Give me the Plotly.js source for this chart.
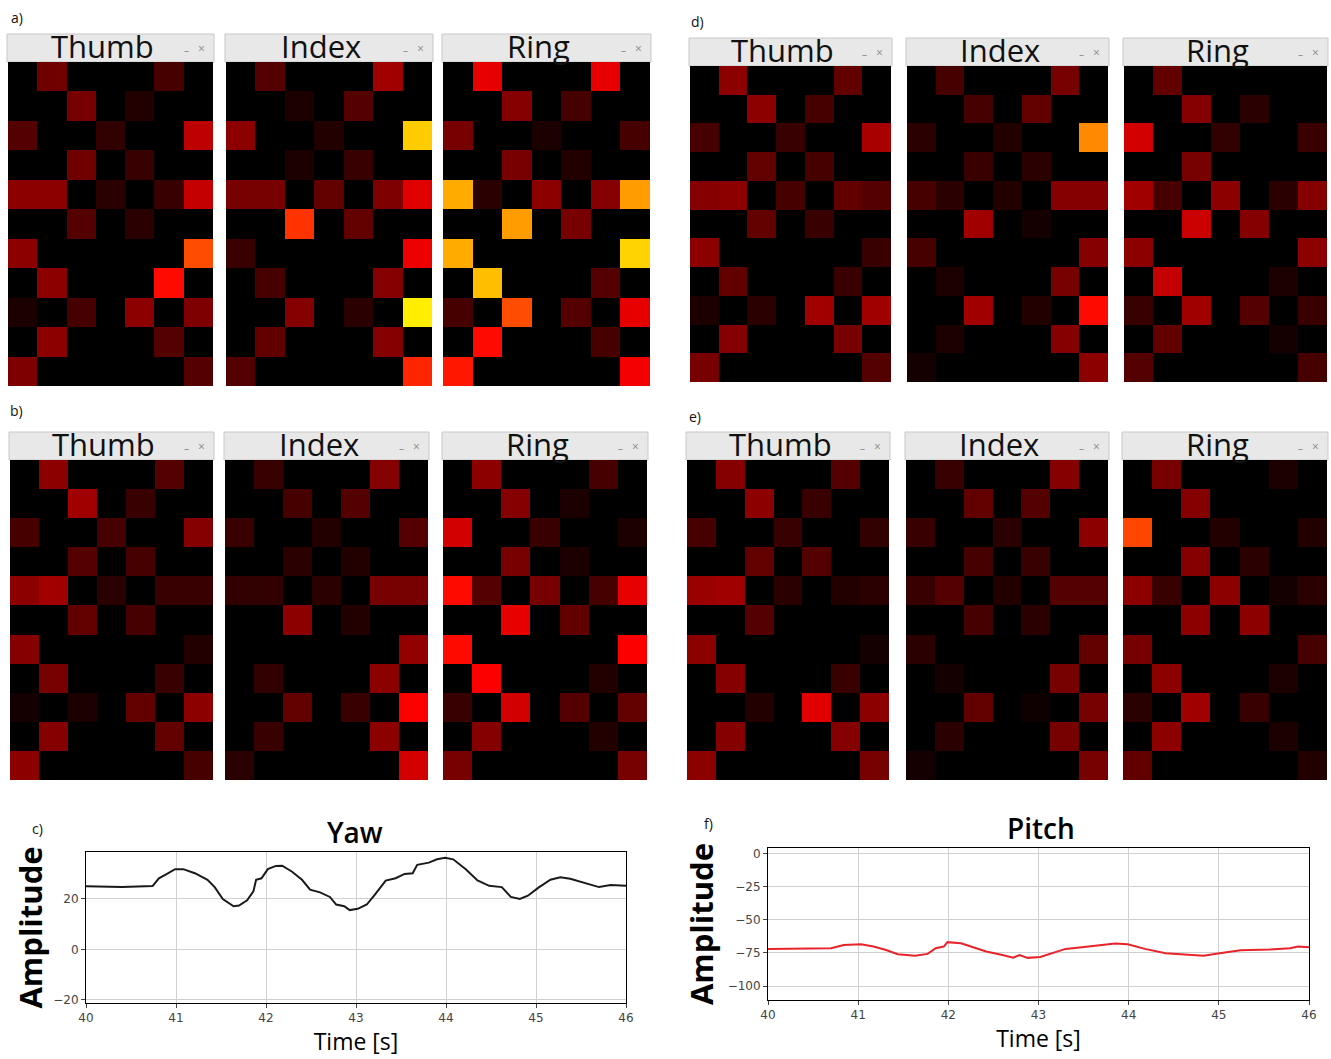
<!DOCTYPE html>
<html>
<head>
<meta charset="utf-8">
<script src="https://cdn.plot.ly/plotly-3.0.1.min.js"></script>
<style>html,body{margin:0;padding:0;background:#fff;}#chart{width:1331px;height:1059px;}</style>
</head>
<body>
<div id="chart"></div>
<script>
// ---------------- DATA ----------------
const fingers = ["Thumb", "Index", "Ring"];
const panelLabels = ["a)", "b)", "c)", "d)", "e)", "f)"];

// 11 rows x 7 columns intensity maps (0..1, "hot" colour scale)
const aThumb = [
  [0,0.16,0,0,0,0.1,0],
  [0,0,0.17,0,0.05,0,0],
  [0.12,0,0,0.07,0,0,0.27],
  [0,0,0.16,0,0.08,0,0],
  [0.2,0.2,0,0.06,0,0.08,0.28],
  [0,0,0.12,0,0.06,0,0],
  [0.2,0,0,0,0,0,0.48],
  [0,0.2,0,0,0,0.38,0],
  [0.04,0,0.1,0,0.2,0,0.18],
  [0,0.2,0,0,0,0.12,0],
  [0.18,0,0,0,0,0,0.12]
];
const aIndex = [
  [0,0.12,0,0,0,0.23,0],
  [0,0,0.04,0,0.12,0,0],
  [0.2,0,0,0.05,0,0,0.67],
  [0,0,0.04,0,0.08,0,0],
  [0.17,0.17,0,0.14,0,0.18,0.32],
  [0,0,0.44,0,0.14,0,0],
  [0.08,0,0,0,0,0,0.34],
  [0,0.1,0,0,0,0.19,0],
  [0,0,0.19,0,0.06,0,0.72],
  [0,0.14,0,0,0,0.19,0],
  [0.12,0,0,0,0,0,0.42]
];
const aRing = [
  [0,0.33,0,0,0,0.33,0],
  [0,0,0.19,0,0.1,0,0],
  [0.17,0,0,0.04,0,0,0.1],
  [0,0,0.17,0,0.05,0,0],
  [0.62,0.06,0,0.2,0,0.19,0.6],
  [0,0,0.6,0,0.17,0,0],
  [0.62,0,0,0,0,0,0.68],
  [0,0.65,0,0,0,0.12,0],
  [0.1,0,0.48,0,0.12,0,0.33],
  [0,0.38,0,0,0,0.1,0],
  [0.4,0,0,0,0,0,0.35]
];
const bThumb = [
  [0,0.2,0,0,0,0.12,0],
  [0,0,0.23,0,0.08,0,0],
  [0.1,0,0,0.1,0,0,0.19],
  [0,0,0.12,0,0.1,0,0],
  [0.2,0.23,0,0.06,0,0.08,0.08],
  [0,0,0.14,0,0.1,0,0],
  [0.19,0,0,0,0,0,0.05],
  [0,0.17,0,0,0,0.08,0],
  [0.03,0,0.04,0,0.14,0,0.2],
  [0,0.19,0,0,0,0.14,0],
  [0.2,0,0,0,0,0,0.1]
];
const bIndex = [
  [0,0.08,0,0,0,0.19,0],
  [0,0,0.1,0,0.12,0,0],
  [0.08,0,0,0.05,0,0,0.12],
  [0,0,0.06,0,0.05,0,0],
  [0.07,0.07,0,0.06,0,0.17,0.17],
  [0,0,0.2,0,0.05,0,0],
  [0,0,0,0,0,0,0.21],
  [0,0.07,0,0,0,0.2,0],
  [0,0,0.14,0,0.08,0,0.36],
  [0,0.08,0,0,0,0.2,0],
  [0.06,0,0,0,0,0,0.3]
];
const bRing = [
  [0,0.2,0,0,0,0.1,0],
  [0,0,0.19,0,0.04,0,0],
  [0.3,0,0,0.08,0,0,0.04],
  [0,0,0.17,0,0.04,0,0],
  [0.38,0.12,0,0.17,0,0.1,0.33],
  [0,0,0.33,0,0.14,0,0],
  [0.38,0,0,0,0,0,0.36],
  [0,0.36,0,0,0,0.05,0],
  [0.08,0,0.3,0,0.12,0,0.14],
  [0,0.19,0,0,0,0.05,0],
  [0.17,0,0,0,0,0,0.17]
];
const dThumb = [
  [0,0.2,0,0,0,0.14,0],
  [0,0,0.2,0,0.1,0,0],
  [0.1,0,0,0.08,0,0,0.24],
  [0,0,0.14,0,0.1,0,0],
  [0.19,0.2,0,0.1,0,0.14,0.12],
  [0,0,0.14,0,0.08,0,0],
  [0.2,0,0,0,0,0,0.08],
  [0,0.14,0,0,0,0.08,0],
  [0.04,0,0.06,0,0.23,0,0.23],
  [0,0.19,0,0,0,0.17,0],
  [0.17,0,0,0,0,0,0.12]
];
const dIndex = [
  [0,0.1,0,0,0,0.17,0],
  [0,0,0.1,0,0.14,0,0],
  [0.06,0,0,0.05,0,0,0.57],
  [0,0,0.08,0,0.06,0,0],
  [0.1,0.06,0,0.05,0,0.19,0.19],
  [0,0,0.23,0,0.03,0,0],
  [0.1,0,0,0,0,0,0.19],
  [0,0.04,0,0,0,0.17,0],
  [0,0,0.23,0,0.05,0,0.38],
  [0,0.04,0,0,0,0.19,0],
  [0.03,0,0,0,0,0,0.2]
];
const dRing = [
  [0,0.14,0,0,0,0,0],
  [0,0,0.19,0,0.06,0,0],
  [0.3,0,0,0.07,0,0,0.08],
  [0,0,0.17,0,0,0,0],
  [0.23,0.1,0,0.2,0,0.06,0.19],
  [0,0,0.29,0,0.19,0,0],
  [0.2,0,0,0,0,0,0.2],
  [0,0.28,0,0,0,0.04,0],
  [0.08,0,0.23,0,0.12,0,0.08],
  [0,0.14,0,0,0,0.03,0],
  [0.12,0,0,0,0,0,0.1]
];
const eThumb = [
  [0,0.19,0,0,0,0.12,0],
  [0,0,0.2,0,0.08,0,0],
  [0.1,0,0,0.08,0,0,0.07],
  [0,0,0.14,0,0.12,0,0],
  [0.22,0.23,0,0.06,0,0.05,0.06],
  [0,0,0.12,0,0,0,0],
  [0.2,0,0,0,0,0,0.03],
  [0,0.19,0,0,0,0.08,0],
  [0,0,0.05,0,0.32,0,0.2],
  [0,0.19,0,0,0,0.19,0],
  [0.2,0,0,0,0,0,0.17]
];
const eIndex = [
  [0,0.08,0,0,0,0.19,0],
  [0,0,0.14,0,0.12,0,0],
  [0.08,0,0,0.06,0,0,0.2],
  [0,0,0.1,0,0.08,0,0],
  [0.08,0.12,0,0.05,0,0.12,0.12],
  [0,0,0.1,0,0.06,0,0],
  [0.06,0,0,0,0,0,0.14],
  [0,0.03,0,0,0,0.17,0],
  [0,0,0.14,0,0.02,0,0.17],
  [0,0.06,0,0,0,0.17,0],
  [0.03,0,0,0,0,0,0.17]
];
const eRing = [
  [0,0.17,0,0,0,0.04,0],
  [0,0,0.19,0,0,0,0],
  [0.47,0,0,0.05,0,0,0.05],
  [0,0,0.19,0,0.06,0,0],
  [0.2,0.08,0,0.2,0,0.03,0.06],
  [0,0,0.2,0,0.2,0,0],
  [0.17,0,0,0,0,0,0.1],
  [0,0.2,0,0,0,0.04,0],
  [0.06,0,0.23,0,0.08,0,0],
  [0,0.2,0,0,0,0.04,0],
  [0.14,0,0,0,0,0,0.05]
];

// Yaw signal (panel c)
const yawTime = [40.0,40.4,40.74,40.81,40.9,40.99,41.08,41.21,41.35,41.43,41.52,41.64,41.7,41.79,41.86,41.89,41.95,42.02,42.11,42.18,42.29,42.4,42.49,42.6,42.71,42.78,42.87,42.93,43.02,43.12,43.21,43.33,43.44,43.54,43.63,43.68,43.81,43.9,43.99,44.08,44.22,44.35,44.48,44.62,44.72,44.82,44.91,45.02,45.16,45.27,45.38,45.56,45.7,45.83,46.0];
const yawAmp  = [25.0,24.7,25.1,28.2,29.9,31.8,31.8,30.2,27.6,24.7,20.0,17.1,17.4,19.5,23.0,27.6,28.2,31.8,33.1,33.2,30.8,27.6,23.7,22.6,20.8,17.8,17.1,15.6,16.1,17.8,21.7,27.3,28.2,29.9,30.2,33.5,34.4,35.7,36.3,35.7,31.8,27.3,25.2,24.7,20.8,20.0,21.3,24.3,27.6,28.6,28.0,26.0,24.7,25.5,25.2];

// Pitch signal (panel f)
const pitchTime = [40.0,40.38,40.7,40.84,41.03,41.17,41.31,41.44,41.63,41.77,41.86,41.95,41.99,42.14,42.28,42.42,42.6,42.72,42.79,42.88,43.02,43.16,43.3,43.48,43.67,43.85,43.99,44.18,44.41,44.64,44.83,45.01,45.24,45.56,45.79,45.88,46.0];
const pitchAmp  = [-71.9,-71.9,-71.4,-68.9,-68.4,-70.1,-72.7,-75.9,-77.0,-75.7,-71.4,-70.1,-66.8,-67.6,-70.9,-73.9,-76.5,-78.5,-76.5,-78.7,-78.0,-75.2,-71.9,-70.6,-68.9,-67.8,-68.4,-71.9,-75.2,-75.9,-77.0,-75.2,-72.9,-72.4,-71.4,-70.1,-70.6];

const timeTicks = [40,41,42,43,44,45,46];
const yawTicks = [-20,0,20];
const pitchTicks = [0,-25,-50,-75,-100];

// ---------------- LAYOUT HELPERS ----------------
const W = 1331, H = 1059;
const dx = (l, r) => [l / W, r / W];
const dy = (t, b) => [1 - b / H, 1 - t / H];
const px = v => v / W;
const py = v => 1 - v / H;

const hot = [[0,'#000000'],[0.365,'#ff0000'],[0.746,'#ffff00'],[1,'#ffffff']];

const groups = [
  {maps:[aThumb,aIndex,aRing], top:62, bottom:386, barTop:34, xs:[[8,213],[226,432],[443,650]]},
  {maps:[bThumb,bIndex,bRing], top:460, bottom:780, barTop:432, xs:[[10,213],[225,428],[443,647]]},
  {maps:[dThumb,dIndex,dRing], top:66, bottom:382, barTop:38, xs:[[690,891],[907,1108],[1124,1327]]},
  {maps:[eThumb,eIndex,eRing], top:460, bottom:780, barTop:432, xs:[[687,889],[906,1108],[1123,1327]]}
];

const data = [];
const layout = {
  width: W, height: H,
  margin: {l:0, r:0, t:0, b:0},
  paper_bgcolor: '#ffffff',
  plot_bgcolor: '#ffffff',
  showlegend: false,
  font: {family: 'Open Sans, DejaVu Sans, sans-serif', color: '#000'},
  shapes: [],
  annotations: []
};

let k = 0;
groups.forEach(g => {
  g.maps.forEach((z, i) => {
    k++;
    const xa = 'x' + k, ya = 'y' + k;
    data.push({
      type: 'heatmap', z: z, xaxis: xa, yaxis: ya,
      colorscale: hot, zmin: 0, zmax: 1, showscale: false,
      hoverinfo: 'z'
    });
    const [l, r] = g.xs[i];
    layout['xaxis' + k] = {domain: dx(l, r), visible: false, fixedrange: true, anchor: ya};
    layout['yaxis' + k] = {domain: dy(g.top, g.bottom), visible: false, autorange: 'reversed', fixedrange: true, anchor: xa};
    layout.shapes.push({
      type: 'rect', xref: 'paper', yref: 'paper',
      x0: px(l - 1), x1: px(r + 1), y0: py(g.top), y1: py(g.barTop),
      fillcolor: '#e8e8e8', line: {color: '#c8c8c8', width: 1}, layer: 'below'
    });
    const cx = (l + r) / 2 - 8;
    layout.annotations.push({
      xref: 'paper', yref: 'paper', x: px(cx), y: py(g.top + 7),
      xanchor: 'center', yanchor: 'bottom', showarrow: false,
      text: fingers[i], font: {size: 31, family: 'Open Sans, sans-serif', color: '#111'}
    });
    layout.annotations.push({
      xref: 'paper', yref: 'paper', x: px(r - 27), y: py((g.barTop + g.top) / 2 + 2),
      xanchor: 'center', yanchor: 'middle', showarrow: false,
      text: '–', font: {size: 10, color: '#888'}
    });
    layout.annotations.push({
      xref: 'paper', yref: 'paper', x: px(r - 12), y: py((g.barTop + g.top) / 2),
      xanchor: 'center', yanchor: 'middle', showarrow: false,
      text: '×', font: {size: 12, color: '#888'}
    });
  });
});

// line charts
const tickFont = {size: 12, color: '#444', family: 'DejaVu Sans, sans-serif'};
const gridC = '#d0d0d0';

data.push({type: 'scatter', mode: 'lines', x: yawTime, y: yawAmp, xaxis: 'x13', yaxis: 'y13',
  line: {color: '#1a1a1a', width: 2}, hoverinfo: 'x+y'});
data.push({type: 'scatter', mode: 'lines', x: pitchTime, y: pitchAmp, xaxis: 'x14', yaxis: 'y14',
  line: {color: '#e8232a', width: 2}, hoverinfo: 'x+y'});

function lineAxes(n, l, r, t, b, yr, yt, ystand) {
  layout['xaxis' + n] = {
    domain: dx(l, r), anchor: 'y' + n, range: [40, 46],
    tickvals: timeTicks, ticks: 'outside', ticklen: 4, tickcolor: '#444',
    tickfont: tickFont, showgrid: true, gridcolor: gridC, zeroline: false,
    showline: true, mirror: true, linecolor: '#000', linewidth: 1,
    title: {text: 'Time [s]', font: {size: 23, family: 'Open Sans, sans-serif', color: '#000'}, standoff: 7}
  };
  layout['yaxis' + n] = {
    domain: dy(t, b), anchor: 'x' + n, range: yr,
    tickvals: yt, ticks: 'outside', ticklen: 4, tickcolor: '#444',
    tickfont: tickFont, showgrid: true, gridcolor: gridC, zeroline: false,
    showline: true, mirror: true, linecolor: '#000', linewidth: 1,
    title: {text: 'Amplitude', font: {size: 31, family: 'Open Sans, sans-serif', color: '#000', weight: 700}, standoff: ystand}
  };
}
lineAxes(13, 86, 626, 852, 1003, [-21.2, 38.6], yawTicks, 1);
lineAxes(14, 768, 1309, 848, 1000, [-110.6, 4.5], pitchTicks, 4);

layout.annotations.push({xref:'paper', yref:'paper', x: px(355), y: py(832), xanchor:'center', yanchor:'middle',
  showarrow:false, text:'Yaw', font:{size: 28, family:'Open Sans, sans-serif', color:'#000', weight: 600}});
layout.annotations.push({xref:'paper', yref:'paper', x: px(1041), y: py(828), xanchor:'center', yanchor:'middle',
  showarrow:false, text:'Pitch', font:{size: 28, family:'Open Sans, sans-serif', color:'#000', weight: 600}});

const labelPos = [[17,18],[16,410],[37,828],[697,22],[695,417],[708,823]];
panelLabels.forEach((t, i) => {
  layout.annotations.push({xref:'paper', yref:'paper', x: px(labelPos[i][0]), y: py(labelPos[i][1]),
    xanchor:'center', yanchor:'middle', showarrow:false, text: t,
    font:{size: 14, family:'Open Sans, sans-serif', color:'#111'}});
});

Plotly.newPlot('chart', data, layout, {displayModeBar: false});
</script>
</body>
</html>
